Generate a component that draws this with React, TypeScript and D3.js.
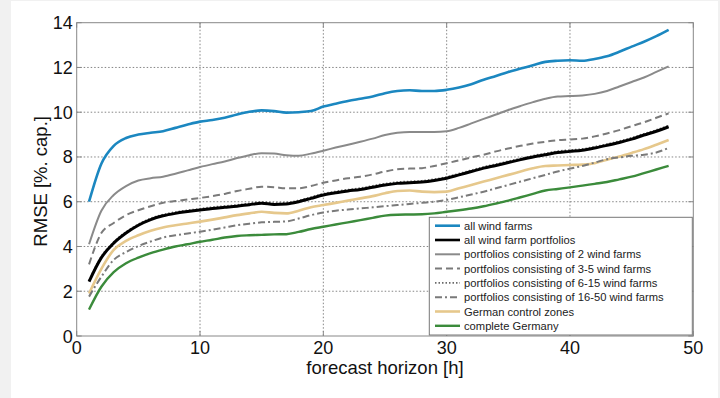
import * as d3 from "d3";
import { useEffect, useRef } from "react";

const hours = d3.range(1, 49);

const allWindFarms = [6.0, 7.7, 8.5, 8.85, 9.0, 9.08, 9.15, 9.3, 9.45, 9.58, 9.65, 9.75, 9.9, 10.02, 10.08, 10.05, 9.98, 10.0, 10.05, 10.25, 10.38, 10.5, 10.6, 10.7, 10.85, 10.95, 10.98, 10.95, 10.95, 11.0, 11.1, 11.25, 11.45, 11.62, 11.8, 11.95, 12.1, 12.25, 12.3, 12.32, 12.3, 12.38, 12.5, 12.7, 12.93, 13.15, 13.4, 13.68];
const allPortfolios = [2.43, 3.5, 4.15, 4.6, 4.95, 5.2, 5.37, 5.48, 5.56, 5.63, 5.7, 5.75, 5.8, 5.87, 5.93, 5.88, 5.9, 6.0, 6.15, 6.3, 6.4, 6.48, 6.55, 6.65, 6.75, 6.82, 6.85, 6.88, 6.95, 7.05, 7.2, 7.35, 7.5, 7.62, 7.75, 7.88, 8.0, 8.1, 8.2, 8.25, 8.3, 8.4, 8.52, 8.65, 8.8, 8.98, 9.15, 9.35];
const pf2 = [4.1, 5.6, 6.3, 6.7, 6.95, 7.05, 7.12, 7.25, 7.4, 7.55, 7.68, 7.8, 7.95, 8.08, 8.17, 8.15, 8.08, 8.05, 8.15, 8.28, 8.42, 8.55, 8.68, 8.82, 8.98, 9.08, 9.12, 9.12, 9.12, 9.15, 9.3, 9.5, 9.7, 9.9, 10.1, 10.28, 10.45, 10.6, 10.7, 10.72, 10.75, 10.82, 10.95, 11.15, 11.35, 11.55, 11.8, 12.05];
const pf3to5 = [3.2, 4.6, 5.05, 5.4, 5.62, 5.8, 5.95, 6.03, 6.1, 6.17, 6.25, 6.35, 6.48, 6.58, 6.67, 6.65, 6.6, 6.6, 6.7, 6.85, 6.95, 7.05, 7.12, 7.22, 7.35, 7.45, 7.48, 7.5, 7.6, 7.72, 7.85, 7.98, 8.1, 8.25, 8.38, 8.5, 8.6, 8.68, 8.75, 8.78, 8.82, 8.92, 9.05, 9.2, 9.38, 9.55, 9.75, 9.95];
const pf6to15 = [2.48, 3.56, 4.2, 4.66, 5.0, 5.26, 5.43, 5.54, 5.62, 5.69, 5.76, 5.81, 5.86, 5.93, 5.99, 5.94, 5.96, 6.06, 6.21, 6.36, 6.46, 6.54, 6.61, 6.71, 6.81, 6.88, 6.91, 6.94, 7.01, 7.11, 7.26, 7.41, 7.56, 7.68, 7.81, 7.94, 8.06, 8.16, 8.26, 8.31, 8.36, 8.46, 8.58, 8.71, 8.86, 9.04, 9.21, 9.41];
const pf16to50 = [1.76, 2.65, 3.4, 3.75, 4.02, 4.22, 4.4, 4.5, 4.58, 4.66, 4.75, 4.85, 4.95, 5.02, 5.08, 5.1, 5.12, 5.25, 5.4, 5.52, 5.6, 5.65, 5.7, 5.75, 5.8, 5.85, 5.9, 5.95, 6.0, 6.08, 6.2, 6.32, 6.45, 6.6, 6.75, 6.9, 7.05, 7.2, 7.35, 7.48, 7.6, 7.75, 7.9, 7.98, 8.05, 8.1, 8.2, 8.4];
const controlZones = [1.9, 3.0, 3.85, 4.25, 4.5, 4.7, 4.85, 4.95, 5.03, 5.11, 5.2, 5.3, 5.4, 5.48, 5.55, 5.5, 5.48, 5.6, 5.75, 5.85, 5.95, 6.05, 6.15, 6.25, 6.38, 6.48, 6.5, 6.45, 6.43, 6.45, 6.6, 6.75, 6.9, 7.05, 7.2, 7.35, 7.5, 7.6, 7.62, 7.64, 7.66, 7.72, 7.88, 8.02, 8.18, 8.35, 8.55, 8.76];
const germany = [1.18, 2.2, 2.85, 3.25, 3.5, 3.7, 3.86, 4.0, 4.1, 4.21, 4.3, 4.4, 4.47, 4.5, 4.52, 4.54, 4.55, 4.65, 4.78, 4.88, 4.98, 5.08, 5.18, 5.28, 5.38, 5.42, 5.43, 5.44, 5.48, 5.55, 5.62, 5.7, 5.8, 5.92, 6.05, 6.2, 6.35, 6.5, 6.57, 6.64, 6.72, 6.8, 6.88, 7.0, 7.12, 7.28, 7.44, 7.6];

const xTicks = [0, 10, 20, 30, 40, 50];
const yTicks = [0, 2, 4, 6, 8, 10, 12, 14];

// legend order, drawn order is reversed so the top entries sit on top
const series = [
  { name: "all wind farms", values: allWindFarms, color: "#1b87c0", width: 2.6, dash: null },
  { name: "all wind farm portfolios", values: allPortfolios, color: "#000000", width: 3, dash: null },
  { name: "portfolios consisting of 2 wind farms", values: pf2, color: "#8a8a8a", width: 2, dash: null },
  { name: "portfolios consisting of 3-5 wind farms", values: pf3to5, color: "#7a7a7a", width: 2, dash: "7,4" },
  { name: "portfolios consisting of 6-15 wind farms", values: pf6to15, color: "#6a6a6a", width: 1.6, dash: "1.5,2" },
  { name: "portfolios consisting of 16-50 wind farms", values: pf16to50, color: "#7a7a7a", width: 2, dash: "7,3,2,3" },
  { name: "German control zones", values: controlZones, color: "#e6c88c", width: 2.6, dash: null },
  { name: "complete Germany", values: germany, color: "#3b8b3b", width: 2.4, dash: null },
];

export default function App() {
  const ref = useRef<SVGSVGElement>(null);

  const width = 720;
  const height = 398;
  const m = { left: 76.7, right: 693.3, top: 22.7, bottom: 336 };

  useEffect(() => {
    const svg = d3.select(ref.current);
    svg.selectAll("*").remove();

    const x = d3.scaleLinear().domain([0, 50]).range([m.left, m.right]);
    const y = d3.scaleLinear().domain([0, 14]).range([m.bottom, m.top]);

    svg.append("rect").attr("width", width).attr("height", height).attr("fill", "#f1f1f1");
    svg.append("rect").attr("x", 11).attr("y", 1).attr("width", 707).attr("height", height).attr("fill", "#fff");

    // grid
    const grid = svg.append("g").attr("stroke", "#666").attr("stroke-width", 0.8).attr("stroke-dasharray", "1.5,2");
    grid.selectAll("line.gx").data(xTicks.slice(1, -1)).join("line")
      .attr("x1", d => x(d)).attr("x2", d => x(d)).attr("y1", m.top).attr("y2", m.bottom);
    grid.selectAll("line.gy").data(yTicks.slice(1, -1)).join("line")
      .attr("x1", m.left).attr("x2", m.right).attr("y1", d => y(d)).attr("y2", d => y(d));

    // inward ticks
    const ticks = svg.append("g").attr("stroke", "#888").attr("stroke-width", 1);
    xTicks.forEach(t => {
      ticks.append("line").attr("x1", x(t)).attr("x2", x(t)).attr("y1", m.bottom).attr("y2", m.bottom - 5);
      ticks.append("line").attr("x1", x(t)).attr("x2", x(t)).attr("y1", m.top).attr("y2", m.top + 5);
    });
    yTicks.forEach(t => {
      ticks.append("line").attr("x1", m.left).attr("x2", m.left + 5).attr("y1", y(t)).attr("y2", y(t));
      ticks.append("line").attr("x1", m.right).attr("x2", m.right - 5).attr("y1", y(t)).attr("y2", y(t));
    });

    // lines
    const line = d3.line<number>().x((_, i) => x(hours[i])).y(d => y(d)).curve(d3.curveMonotoneX);
    svg.append("g").selectAll("path")
      .data(series.slice().reverse())
      .join("path")
      .attr("fill", "none")
      .attr("stroke", d => d.color)
      .attr("stroke-width", d => d.width)
      .attr("stroke-dasharray", d => d.dash)
      .attr("stroke-linejoin", "round")
      .attr("d", d => line(d.values));

    // frame
    svg.append("rect")
      .attr("x", m.left).attr("y", m.top)
      .attr("width", m.right - m.left).attr("height", m.bottom - m.top)
      .attr("fill", "none").attr("stroke", "#888").attr("stroke-width", 1);

    const font = "'Liberation Sans', Arial, sans-serif";

    // tick labels
    svg.append("g").attr("font-family", font).attr("font-size", 18).attr("fill", "#111")
      .attr("text-anchor", "middle")
      .selectAll("text").data(xTicks).join("text")
      .attr("x", d => x(d)).attr("y", 354).text(d => d);
    svg.append("g").attr("font-family", font).attr("font-size", 18).attr("fill", "#111")
      .attr("text-anchor", "end")
      .selectAll("text").data(yTicks).join("text")
      .attr("x", 72.7).attr("y", d => y(d) + 6.5).text(d => d);

    svg.append("text").attr("font-family", font).attr("font-size", 18.5).attr("fill", "#111")
      .attr("text-anchor", "middle").attr("x", (m.left + m.right) / 2).attr("y", 374)
      .text("forecast horizon [h]");
    svg.append("text").attr("font-family", font).attr("font-size", 18.5).attr("fill", "#111")
      .attr("text-anchor", "middle")
      .attr("transform", `translate(47,${(m.top + m.bottom) / 2 + 2}) rotate(-90)`)
      .text("RMSE [%. cap.]");

    // legend
    const lg = svg.append("g");
    lg.append("rect").attr("x", 429.3).attr("y", 217.3).attr("width", 263).attr("height", 117.7)
      .attr("fill", "#fff").attr("stroke", "#777").attr("stroke-width", 1);
    const rows = lg.selectAll("g.row").data(series).join("g")
      .attr("transform", (_, i) => `translate(0,${225.7 + i * 14.3})`);
    rows.append("line").attr("x1", 435).attr("x2", 460).attr("y1", 0).attr("y2", 0)
      .attr("stroke", d => d.color)
      .attr("stroke-width", d => Math.min(d.width, 2.6))
      .attr("stroke-dasharray", d => d.dash);
    rows.append("text").attr("x", 464).attr("y", 4)
      .attr("font-family", font).attr("font-size", 11.2).attr("fill", "#222")
      .text(d => d.name);
  }, []);

  return (
    <svg ref={ref} width={width} height={height} style={{ position: "absolute", left: 0, top: 0 }} />
  );
}
